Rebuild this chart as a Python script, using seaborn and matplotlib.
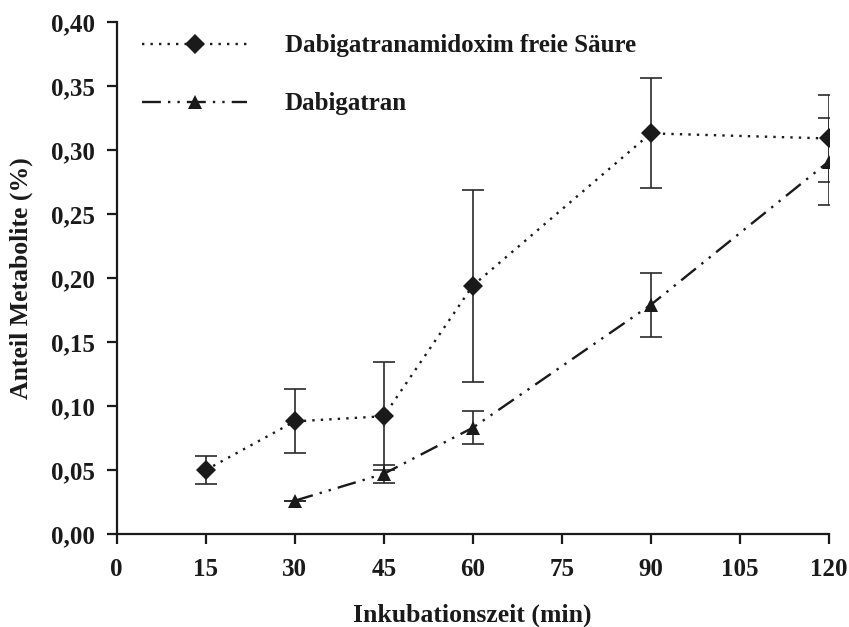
import matplotlib
matplotlib.use("Agg")
import matplotlib.pyplot as plt
import seaborn as sns
import pandas as pd
from matplotlib.ticker import FuncFormatter, MultipleLocator

# Measured metabolite fractions (mean and standard deviation) over incubation time
time_amidoxim = [15, 30, 45, 60, 90, 120]
amidoxim_mean = [0.050, 0.088, 0.092, 0.194, 0.313, 0.309]
amidoxim_sd = [0.011, 0.025, 0.042, 0.075, 0.043, 0.034]

time_dabigatran = [30, 45, 60, 90, 120]
dabigatran_mean = [0.026, 0.047, 0.083, 0.179, 0.291]
dabigatran_sd = [0.000, 0.007, 0.013, 0.025, 0.034]

label_amidoxim = "Dabigatranamidoxim freie Säure"
label_dabigatran = "Dabigatran"

x_ticks = [0, 15, 30, 45, 60, 75, 90, 105, 120]

sns.set_style("ticks")
plt.rcParams["font.family"] = ["Liberation Serif", "DejaVu Serif"]
plt.rcParams["font.weight"] = "bold"

df = pd.concat([
    pd.DataFrame({"Zeit": time_amidoxim, "Anteil": amidoxim_mean, "sd": amidoxim_sd,
                  "Metabolit": label_amidoxim}),
    pd.DataFrame({"Zeit": time_dabigatran, "Anteil": dabigatran_mean, "sd": dabigatran_sd,
                  "Metabolit": label_dabigatran}),
], ignore_index=True)

fig = plt.figure(figsize=(8.49, 6.27), dpi=100)
ax = fig.add_axes([0.1375, 0.1483, 0.8386, 0.8166])

ink = "#1a1a1a"

# error bars first so that markers sit on top
for name, sub in df.groupby("Metabolit"):
    ax.errorbar(sub["Zeit"], sub["Anteil"], yerr=sub["sd"], fmt="none",
                ecolor="#2a2a2a", elinewidth=1.2, capsize=8, capthick=1.2, zorder=2)

sns.lineplot(
    data=df, x="Zeit", y="Anteil", hue="Metabolit", style="Metabolit",
    hue_order=[label_amidoxim, label_dabigatran],
    style_order=[label_amidoxim, label_dabigatran],
    palette=[ink, ink],
    dashes={label_amidoxim: (1, 2.6), label_dabigatran: (8, 3, 1, 3, 1, 3)},
    markers={label_amidoxim: "D", label_dabigatran: "^"},
    markersize=10.5, markeredgewidth=0, linewidth=1.7,
    errorbar=None, sort=True, ax=ax, zorder=3, legend=True,
)

ax.set_xlim(0, 120)
ax.set_ylim(0, 0.40)
ax.set_xticks(x_ticks)
ax.yaxis.set_major_locator(MultipleLocator(0.05))
ax.yaxis.set_major_formatter(FuncFormatter(lambda v, p: f"{v:.2f}".replace(".", ",")))

for side in ("top", "right"):
    ax.spines[side].set_visible(False)
for side in ("left", "bottom"):
    ax.spines[side].set_linewidth(1.6)
    ax.spines[side].set_color(ink)

ax.tick_params(axis="both", direction="out", length=7, width=1.6, color=ink,
               labelsize=18, labelcolor=ink)
ax.tick_params(axis="y", pad=9)
ax.tick_params(axis="x", pad=10)
for lab in ax.get_xticklabels() + ax.get_yticklabels():
    lab.set_fontweight("bold")

ax.set_xlabel("Inkubationszeit (min)", fontsize=18.5, fontweight="bold", color=ink)
ax.set_ylabel("Anteil Metabolite (%)", fontsize=18.5, fontweight="bold", color=ink)
ax.xaxis.set_label_coords(0.5, -0.135)
ax.yaxis.set_label_coords(-0.118, 0.5)

handles, labels = ax.get_legend_handles_labels()
leg = ax.legend(handles, labels, loc="upper left", bbox_to_anchor=(0.004, 1.02),
                frameon=False, handlelength=4.2, handletextpad=1.5,
                labelspacing=1.4, prop={"family": "Liberation Serif", "weight": "bold", "size": 18})
for t in leg.get_texts():
    t.set_color(ink)

fig.savefig("out.png", dpi=100, facecolor="white")
